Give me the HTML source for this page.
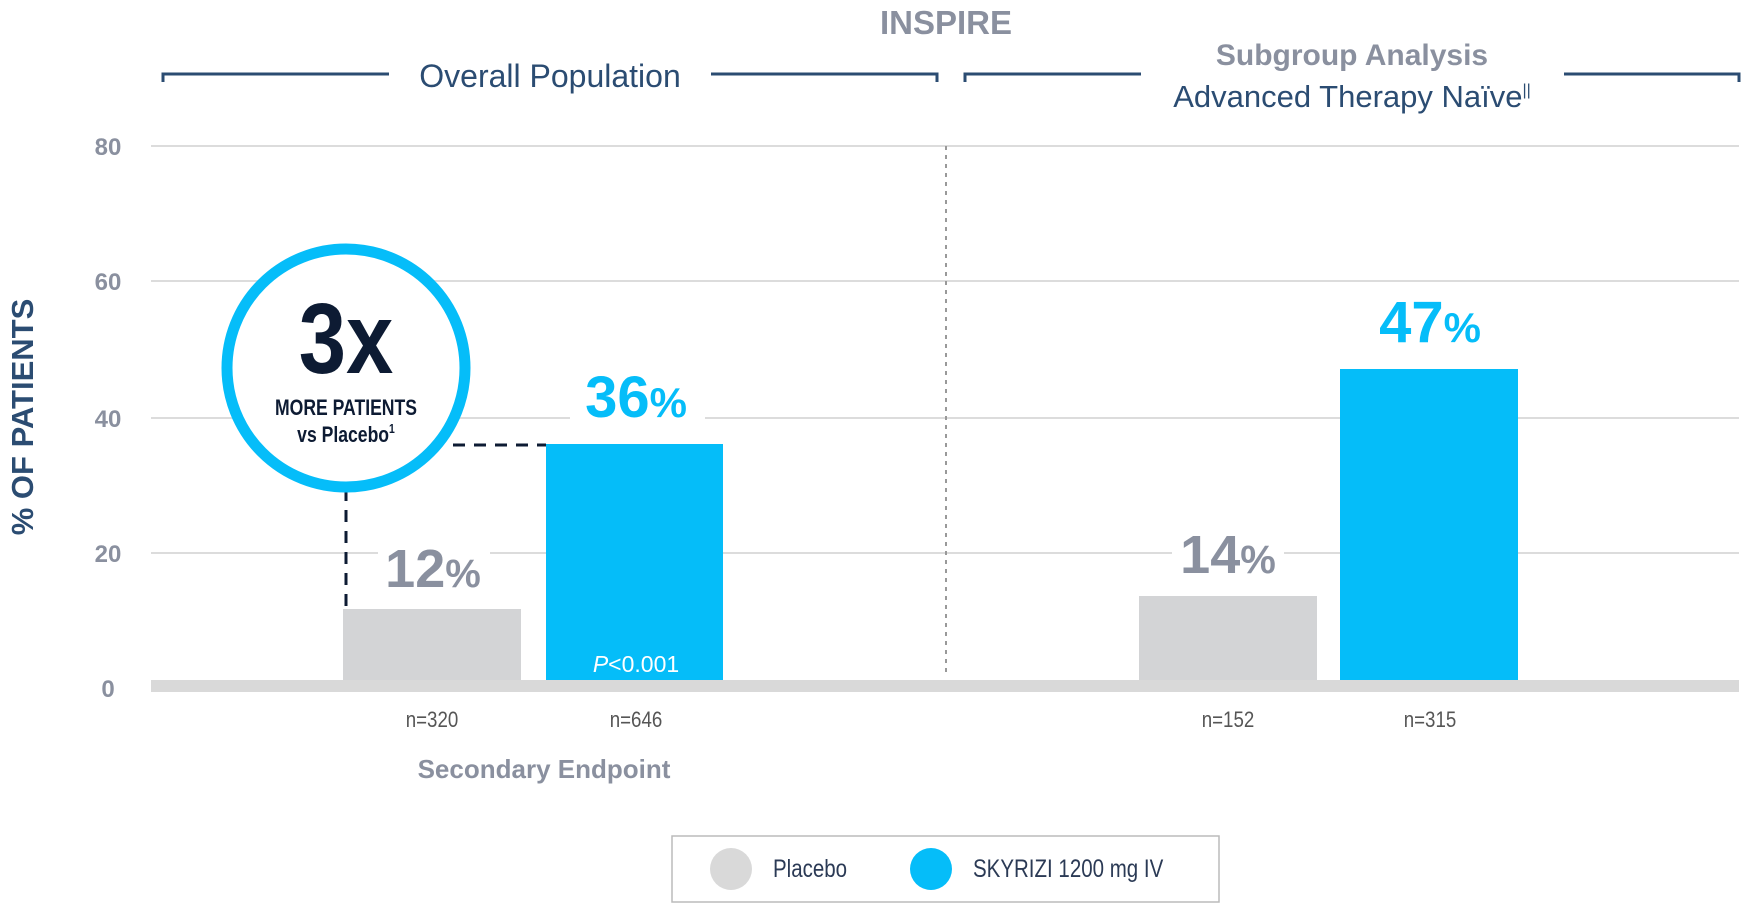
<!DOCTYPE html>
<html><head><meta charset="utf-8"><style>
html,body{margin:0;padding:0;background:#fff;}
svg{display:block;}
text{font-family:"Liberation Sans",sans-serif;}
</style></head><body>
<svg width="1743" height="913" viewBox="0 0 1743 913" xmlns="http://www.w3.org/2000/svg">
<!-- header -->
<text x="946" y="34" text-anchor="middle" font-size="33" font-weight="bold" fill="#8a909f">INSPIRE</text>
<path d="M163 82 V74 H389 M711 74 H937 V82" fill="none" stroke="#2b4c72" stroke-width="3"/>
<text x="550" y="87" text-anchor="middle" font-size="32" fill="#2b4c72">Overall Population</text>
<path d="M965 82 V74 H1141 M1564 74 H1739 V82" fill="none" stroke="#2b4c72" stroke-width="3"/>
<text x="1352" y="65" text-anchor="middle" font-size="30" font-weight="bold" fill="#8a909f">Subgroup Analysis</text>
<text x="1352" y="107" text-anchor="middle" font-size="31" fill="#2b4c72">Advanced Therapy Naïve<tspan font-size="16" dy="-12">||</tspan></text>
<!-- grid -->
<g stroke="#dcdcdc" stroke-width="2">
<line x1="151" y1="146" x2="1739" y2="146"/>
<line x1="151" y1="281" x2="1739" y2="281"/>
<line x1="151" y1="418" x2="1739" y2="418"/>
<line x1="151" y1="553" x2="1739" y2="553"/>
</g>
<rect x="151" y="680" width="1588" height="12" fill="#d9d9d9"/>
<g font-size="24" font-weight="bold" fill="#8a909f" text-anchor="middle">
<text x="108" y="155">80</text><text x="108" y="290">60</text><text x="108" y="427">40</text><text x="108" y="562">20</text><text x="108" y="697">0</text>
</g>
<text transform="translate(33,417) rotate(-90)" text-anchor="middle" font-size="31" font-weight="bold" fill="#2b4c72">% OF PATIENTS</text>
<line x1="946" y1="146" x2="946" y2="676" stroke="#999" stroke-width="2" stroke-dasharray="4,5"/>
<!-- bars -->
<rect x="343" y="609" width="178" height="71" fill="#d3d4d6"/>
<rect x="546" y="444" width="177" height="236" fill="#05bdf9"/>
<rect x="1139" y="596" width="178" height="84" fill="#d3d4d6"/>
<rect x="1340" y="369" width="178" height="311" fill="#05bdf9"/>
<!-- label backgrounds (break gridlines) -->
<rect x="378" y="540" width="112" height="52" fill="#fff"/>
<rect x="570" y="365" width="135" height="55" fill="#fff"/>
<rect x="1172" y="525" width="112" height="52" fill="#fff"/>
<rect x="1365" y="290" width="135" height="55" fill="#fff"/>
<!-- value labels -->
<g font-weight="bold" text-anchor="middle">
<text x="433" y="587" font-size="54" fill="#8a909f">12<tspan font-size="40">%</tspan></text>
<text x="636" y="417" font-size="58" fill="#05bdf9">36<tspan font-size="42">%</tspan></text>
<text x="1228" y="573" font-size="54" fill="#8a909f">14<tspan font-size="40">%</tspan></text>
<text x="1430" y="342" font-size="58" fill="#05bdf9">47<tspan font-size="42">%</tspan></text>
</g>
<text x="636" y="672" text-anchor="middle" font-size="23" fill="#fff"><tspan font-style="italic">P</tspan>&lt;0.001</text>
<!-- dashed connectors -->
<path d="M453 445 H546" stroke="#0d1b33" stroke-width="3" stroke-dasharray="12,9" fill="none"/>
<path d="M346 489 V609" stroke="#0d1b33" stroke-width="3" stroke-dasharray="12,9" fill="none"/>
<!-- circle -->
<circle cx="346" cy="368" r="119" fill="#fff" stroke="#05bdf9" stroke-width="11"/>
<text x="346" y="373" text-anchor="middle" font-size="100" font-weight="bold" fill="#0d1b33" transform="translate(346 0) scale(0.85 1) translate(-346 0)">3x</text>
<text x="346" y="415" text-anchor="middle" font-size="22" font-weight="bold" fill="#0d1b33" transform="translate(346 0) scale(0.8 1) translate(-346 0)">MORE PATIENTS</text>
<text x="346" y="442" text-anchor="middle" font-size="22" font-weight="bold" fill="#0d1b33" transform="translate(346 0) scale(0.8 1) translate(-346 0)">vs Placebo<tspan font-size="13" dy="-9">1</tspan></text>
<!-- n labels -->
<g font-size="22" fill="#555" text-anchor="middle">
<text x="432" y="727" transform="translate(432 0) scale(0.85 1) translate(-432 0)">n=320</text>
<text x="636" y="727" transform="translate(636 0) scale(0.85 1) translate(-636 0)">n=646</text>
<text x="1228" y="727" transform="translate(1228 0) scale(0.85 1) translate(-1228 0)">n=152</text>
<text x="1430" y="727" transform="translate(1430 0) scale(0.85 1) translate(-1430 0)">n=315</text>
</g>
<text x="544" y="778" text-anchor="middle" font-size="26" font-weight="bold" fill="#8a909f">Secondary Endpoint</text>
<!-- legend -->
<rect x="672" y="836" width="547" height="66" fill="#fff" stroke="#bbb" stroke-width="1.5"/>
<circle cx="731" cy="869" r="21" fill="#d9d9d9"/>
<circle cx="931" cy="869" r="21" fill="#05bdf9"/>
<text x="773" y="877" font-size="25" fill="#2b3a55" transform="translate(773 0) scale(0.82 1) translate(-773 0)">Placebo</text>
<text x="973" y="877" font-size="25" fill="#2b3a55" transform="translate(973 0) scale(0.82 1) translate(-973 0)">SKYRIZI 1200 mg IV</text>
</svg>
</body></html>
